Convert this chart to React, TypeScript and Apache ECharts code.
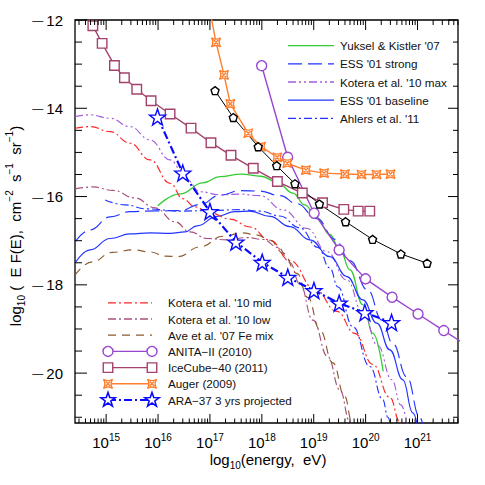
import React, { useEffect, useRef } from 'react';
import * as echarts from 'echarts';

// Axis extents (log10 energy in eV, log10 flux)
const X_MIN = 14.4;
const X_MAX = 21.78;
const Y_MIN = -21.13;
const Y_MAX = -12;

// ---- model curves [log10 E, log10 EF(E)] ----
const yukselKistler: [number, number][] = [
  [15.995, -16.21], [16.424, -15.94], [16.867, -15.69], [17.194, -15.55], [17.6, -15.49],
  [17.984, -15.54], [18.29, -15.67], [18.6, -15.92], [18.83, -16.19], [19.06, -16.48],
  [19.31, -16.86], [19.504, -17.2], [19.697, -17.66], [19.947, -18.45], [20.14, -19.1], [20.338, -19.96],
];
const essStrong: [number, number][] = [
  [14.403, -17.02], [14.692, -16.755], [15.077, -16.461], [15.462, -16.34], [15.943, -16.325],
  [16.424, -16.32], [16.809, -16.18], [17.194, -15.97], [17.579, -15.865], [17.964, -15.875],
  [18.349, -15.98], [18.677, -16.16], [19.062, -16.5], [19.408, -16.97], [19.697, -17.45],
  [20.043, -18.12], [20.313, -18.8], [20.525, -19.33], [20.794, -20.09], [21.044, -21.0], [21.13, -21.33],
];
const koteraMax: [number, number][] = [
  [14.403, -14.185], [14.692, -14.15], [15.077, -14.226], [15.462, -14.416], [15.847, -14.717],
  [16.232, -15.17], [16.553, -15.62], [16.809, -15.89], [17.194, -15.96], [17.579, -15.945],
  [17.964, -15.98], [18.407, -16.3], [18.869, -16.72], [19.254, -17.25], [19.639, -17.89],
  [19.947, -18.63], [20.236, -19.38], [20.505, -20.15], [20.679, -20.72], [20.813, -21.239],
];
const essBaseline: [number, number][] = [
  [14.403, -17.503], [14.692, -17.208], [15.077, -16.95], [15.462, -16.846], [15.847, -16.823],
  [16.232, -16.835], [16.52, -16.8], [16.752, -16.665], [17.137, -16.45], [17.483, -16.34],
  [17.772, -16.33], [18.157, -16.45], [18.542, -16.68], [18.927, -16.98], [19.312, -17.36],
  [19.639, -17.813], [19.947, -18.341], [20.216, -18.868], [20.467, -19.473], [20.717, -20.152],
  [20.91, -20.9], [21.006, -21.239],
];
const ahlers: [number, number][] = [
  [14.981, -16.076], [15.366, -16.189], [15.789, -16.28], [16.424, -16.33], [17.06, -16.314],
  [17.579, -16.295], [17.964, -16.33], [18.349, -16.44], [18.734, -16.71], [19.08, -17.15],
  [19.312, -17.62], [19.466, -18.05], [19.755, -18.95], [20.082, -19.85], [20.332, -20.6],
  [20.428, -21.0], [20.5, -21.33],
];
const koteraMid: [number, number][] = [
  [14.403, -14.452], [14.692, -14.416], [15.077, -14.529], [15.462, -14.792], [15.847, -15.17],
  [16.232, -15.698], [16.482, -16.05], [16.713, -16.235], [17.002, -16.37], [17.387, -16.51],
  [17.772, -16.69], [18.157, -16.99], [18.542, -17.45], [19.023, -18.1], [19.446, -18.6],
  [19.793, -19.1], [20.139, -19.8], [20.467, -20.55], [20.659, -21.1], [20.73, -21.33],
];
const koteraLow: [number, number][] = [
  [14.403, -15.827], [14.75, -15.782], [15.135, -15.861], [15.558, -16.031], [15.943, -16.257],
  [16.328, -16.574], [16.617, -16.8], [16.944, -16.95], [17.329, -16.98], [17.714, -16.93],
  [18.022, -16.97], [18.311, -17.15], [18.542, -17.5], [18.734, -17.98], [18.984, -18.8],
  [19.273, -19.63], [19.504, -20.38], [19.697, -21.1], [19.75, -21.33],
];
const aveFeMix: [number, number][] = [
  [14.403, -17.774], [14.731, -17.48], [15.115, -17.265], [15.52, -17.208], [15.847, -17.254],
  [16.136, -17.35], [16.386, -17.36], [16.809, -17.14], [17.252, -16.9], [17.618, -16.823],
  [17.906, -16.869], [18.157, -16.99], [18.407, -17.28], [18.677, -17.74], [18.888, -18.29],
  [19.119, -19.02], [19.369, -19.767], [19.6, -20.537], [19.735, -21.103], [19.78, -21.33],
];

// ---- limits / measurements ----
const anita: [number, number][] = [
  [17.997, -13.035], [18.498, -15.11], [19.008, -16.377], [19.49, -17.21], [19.999, -17.865],
  [20.51, -18.28], [21.01, -18.66], [21.506, -19.036],
];
const anitaTail: [number, number][] = [[21.9, -19.335]];
const icecube: [number, number][] = [
  [14.744, -12.13], [14.923, -12.53], [15.16, -13.03], [15.352, -13.31], [15.59, -13.57],
  [15.866, -13.83], [16.232, -14.13], [16.636, -14.45], [17.02, -14.78], [17.406, -15.065],
  [17.835, -15.36], [18.3, -15.66], [18.78, -15.92], [19.17, -16.14], [19.58, -16.29],
  [19.857, -16.33], [20.08, -16.33],
];
const icecubeHead: [number, number][] = [[14.6, -11.8]];
const auger: [number, number][] = [
  [17.117, -12.505], [17.271, -13.245], [17.393, -13.9], [17.739, -14.566], [17.984, -14.87],
  [18.297, -15.11], [18.49, -15.245], [18.85, -15.4], [19.2, -15.47], [19.6, -15.49],
  [19.92, -15.5], [20.21, -15.5], [20.48, -15.49],
];
const augerHead: [number, number][] = [[16.95, -11.5]];
const blackLimit: [number, number][] = [
  [17.098, -13.6], [17.45, -14.21], [17.93, -14.87], [18.286, -15.3], [18.638, -15.71],
  [19.11, -16.17], [19.614, -16.57], [20.134, -16.97], [20.68, -17.3], [21.185, -17.51],
];
const ara37: [number, number][] = [
  [15.99, -14.197], [16.476, -15.465], [17.0, -16.34], [17.5, -17.03], [18.007, -17.49],
  [18.5, -17.83], [19.004, -18.13], [19.49, -18.415], [19.985, -18.63], [20.5, -18.855],
];

const X_MINOR_FACTORS = [2, 3, 4, 5, 6, 7, 8, 9];
const Y_MAJOR_TICKS = [-12, -14, -16, -18, -20];
const Y_MINOR_STEP = 0.5;

const LEGEND_TOP_NAMES = ["Yuksel & Kistler '07", "ESS '01 strong", "Kotera et al. '10 max", "ESS '01 baseline", "Ahlers et al. '11"];
const LEGEND_BOTTOM_NAMES = ["Kotera et al. '10 mid", "Kotera et al. '10 low", "Ave et al. '07 Fe mix", 'ANITA\u2212II (2010)', 'IceCube\u221240 (2011)', 'Auger (2009)', 'ARA\u221237 3 yrs projected'];

const C = {
  green: '#33CC33',
  blue: '#2234FF',
  ara: '#0A0AFF',
  kmax: '#A35CDB',
  kmid: '#FF2525',
  klow: '#A8507E',
  brown: '#8C5A2E',
  anita: '#9A45CF',
  ice: '#A3426E',
  auger: '#FF7F2E',
};

const STAR_D = 'M0,-7.5 L1.763,-2.427 L7.133,-2.318 L2.853,0.927 L4.408,6.068 L0,3 L-4.408,6.068 L-2.853,0.927 L-7.133,-2.318 L-1.763,-2.427 Z';
const PENT_D = 'M0,-4.5 L4.28,-1.39 L2.645,3.64 L-2.645,3.64 L-4.28,-1.39 Z';
const AUGER_D = 'M-4.5,-4.5 Q0,-1.8 4.5,-4.5 Q1.8,0 4.5,4.5 Q0,1.8 -4.5,4.5 Q-1.8,0 -4.5,-4.5 Z M-2.2,-2.2 L2.2,2.2 M2.2,-2.2 L-2.2,2.2';

let shapesRegistered = false;
function registerShapes() {
  if (shapesRegistered) return;
  echarts.graphic.registerShape('araStar', echarts.graphic.extendPath(STAR_D, {}) as any);
  echarts.graphic.registerShape('augerMark', echarts.graphic.extendPath(AUGER_D, {}) as any);
  shapesRegistered = true;
}

const FONT = '"Liberation Sans", Arial, Helvetica, sans-serif';

export default function App() {
  const ref = useRef<HTMLDivElement>(null);
  useEffect(() => {
    if (!ref.current) return;
    registerShapes();
    const chart = echarts.init(ref.current, undefined, { renderer: 'svg' });

    const DOTDASH = [8, 3, 2, 3];
    const modelLine = (name: string, data: [number, number][], color: string, type: any, width = 1.15) => ({
      name, type: 'line', data, showSymbol: false, symbol: 'none', smooth: 0.45, smoothMonotone: 'x',
      lineStyle: { color, width, type }, itemStyle: { color }, z: 3, silent: true,
    });
    const markLine = (name: string, data: [number, number][], color: string, symbol: string, size: number, lineType: any = 'solid', width = 1.4, extra: [number, number][] = [], prepend = false) => {
      const pts: any[] = data.map((d) => ({ value: d }));
      const ext = extra.map((d) => ({ value: d, symbol: 'none' }));
      const all = prepend ? [...ext, ...pts] : [...pts, ...ext];
      return {
        name, type: 'line', data: all, symbol, symbolSize: size, showAllSymbol: true,
        lineStyle: { color, width, type: lineType }, itemStyle: { color: '#fff', borderColor: color, borderWidth: 1.4 },
        z: 5, silent: true,
      };
    };

    const tickXData: any[] = [];
    for (let n = 14; n <= 21; n++) {
      if (n >= X_MIN && n <= X_MAX) tickXData.push([n, Y_MAX, 1]);
      for (const f of X_MINOR_FACTORS) {
        const v = n + Math.log10(f);
        if (v > X_MIN && v < X_MAX) tickXData.push([v, Y_MAX, 0]);
      }
    }
    const tickYData: any[] = [];
    for (let v = -21; v <= -12 + 1e-9; v += Y_MINOR_STEP) {
      const major = Y_MAJOR_TICKS.some((m) => Math.abs(m - v) < 1e-6) ? 1 : 0;
      tickYData.push([X_MIN, v, major]);
    }

    const blk = { stroke: '#000', lineWidth: 1 };
    const legendGraphics: any[] = [];
    const topRows = [45.7, 63.9, 82.0, 100.2, 118.3];
    const topStyles = [
      { color: C.green, dash: null },
      { color: C.blue, dash: [14, 6] },
      { color: C.kmax, dash: [8, 3, 2, 3, 2, 3] },
      { color: C.blue, dash: null },
      { color: C.blue, dash: DOTDASH },
    ];
    LEGEND_TOP_NAMES.forEach((name, i) => {
      const y = topRows[i];
      legendGraphics.push({ type: 'line', z: 100, shape: { x1: 288, y1: y, x2: 334, y2: y }, style: { stroke: topStyles[i].color, lineWidth: 1.3, lineDash: topStyles[i].dash } });
      legendGraphics.push({ type: 'text', z: 100, x: 340, y, style: { text: name, fontSize: 11.7, fontFamily: FONT, fill: '#111', verticalAlign: 'middle', align: 'left' } });
    });
    const botRows = [302.8, 319.0, 335.2, 351.4, 367.6, 383.8, 400.0];
    const botStyles: any[] = [
      { color: C.kmid, dash: DOTDASH, w: 1.3 },
      { color: C.klow, dash: DOTDASH, w: 1.3 },
      { color: C.brown, dash: [8, 6], w: 1.3 },
      { color: C.anita, dash: null, w: 1.4, mk: 'circle' },
      { color: C.ice, dash: null, w: 1.4, mk: 'rect' },
      { color: C.auger, dash: null, w: 1.4, mk: 'auger' },
      { color: C.ara, dash: DOTDASH, w: 2, mk: 'star' },
    ];
    const mk = (kind: string, cx: number, cy: number, color: string) => {
      const st = { fill: '#fff', stroke: color, lineWidth: 1.4 };
      if (kind === 'circle') return { type: 'circle', z: 101, shape: { cx, cy, r: 5 }, style: st };
      if (kind === 'rect') return { type: 'rect', z: 101, shape: { x: cx - 4.75, y: cy - 4.75, width: 9.5, height: 9.5 }, style: st };
      if (kind === 'auger') return { type: 'augerMark', z: 101, x: cx, y: cy, style: st };
      return { type: 'araStar', z: 101, x: cx, y: cy, style: { ...st, lineWidth: 1.6 } };
    };
    LEGEND_BOTTOM_NAMES.forEach((name, i) => {
      const y = botRows[i];
      const s = botStyles[i];
      legendGraphics.push({ type: 'line', z: 100, shape: { x1: 108, y1: y, x2: 152, y2: y }, style: { stroke: s.color, lineWidth: s.w, lineDash: s.dash } });
      if (s.mk) {
        legendGraphics.push(mk(s.mk, 108, y, s.color));
        legendGraphics.push(mk(s.mk, 152, y, s.color));
      }
      legendGraphics.push({ type: 'text', z: 100, x: 168, y, style: { text: name, fontSize: 11.7, fontFamily: FONT, fill: '#111', verticalAlign: 'middle', align: 'left' } });
    });

    const yTitle = {
      type: 'text', z: 100, x: 15, y: 226, rotation: Math.PI / 2,
      style: {
        text: '{a|log}{b|10}{a| (  E F(E),  cm}{c|\u22122}{a|  s}{c|\u22121}{a|  sr}{c|\u22121}{a|)}',
        align: 'center', verticalAlign: 'middle', fill: '#000',
        rich: {
          a: { fontSize: 15, fontFamily: FONT, lineHeight: 22, verticalAlign: 'middle' },
          b: { fontSize: 10, fontFamily: FONT, lineHeight: 22, verticalAlign: 'bottom' },
          c: { fontSize: 10, fontFamily: FONT, lineHeight: 22, verticalAlign: 'top' },
        },
      },
    };
    const xTitle = {
      type: 'text', z: 100, x: 268, y: 459,
      style: {
        text: '{a|log}{b|10}{a|(energy,  eV)}',
        align: 'center', verticalAlign: 'middle', fill: '#000',
        rich: {
          a: { fontSize: 15, fontFamily: FONT, lineHeight: 22, verticalAlign: 'middle' },
          b: { fontSize: 10, fontFamily: FONT, lineHeight: 22, verticalAlign: 'bottom' },
        },
      },
    };

    const option: any = {
      animation: false,
      backgroundColor: '#fff',
      grid: { left: 75, right: 27, top: 20, bottom: 62, show: true, borderColor: '#000', borderWidth: 1.3, backgroundColor: 'transparent' },
      xAxis: {
        type: 'value', min: X_MIN, max: X_MAX, splitNumber: 7,
        axisLine: { show: false }, axisTick: { show: false }, splitLine: { show: false },
        axisLabel: {
          margin: 9, color: '#000',
          formatter: (v: number) => (Math.abs(v - Math.round(v)) < 1e-6 ? `{b|10}{s|${Math.round(v)}}` : ''),
          rich: {
            b: { fontSize: 15, fontFamily: FONT, lineHeight: 18, verticalAlign: 'bottom' },
            s: { fontSize: 10, fontFamily: FONT, lineHeight: 18, verticalAlign: 'top' },
          },
        },
      },
      yAxis: {
        type: 'value', min: Y_MIN, max: Y_MAX, splitNumber: 5,
        axisLine: { show: false }, axisTick: { show: false }, splitLine: { show: false },
        axisLabel: {
          margin: 12, color: '#000',
          formatter: (v: number) => {
            const r = Math.round(v);
            return Math.abs(v - r) < 1e-6 && r % 2 === 0 ? `{m|\u2014}{n|${Math.abs(r)}}` : '';
          },
          rich: {
            m: { fontSize: 11, fontFamily: FONT, padding: [0, 3, 0, 0], lineHeight: 18, verticalAlign: 'middle' },
            n: { fontSize: 15, fontFamily: FONT, lineHeight: 18, verticalAlign: 'middle' },
          },
        },
      },
      graphic: [...legendGraphics, yTitle, xTitle],
      series: [
        modelLine("Yuksel & Kistler '07", yukselKistler, C.green, 'solid', 1.3),
        modelLine("ESS '01 strong", essStrong, C.blue, [14, 6]),
        modelLine("Kotera et al. '10 max", koteraMax, C.kmax, [8, 3, 2, 3, 2, 3]),
        modelLine("ESS '01 baseline", essBaseline, C.blue, 'solid'),
        modelLine("Ahlers et al. '11", ahlers, C.blue, DOTDASH),
        modelLine("Kotera et al. '10 mid", koteraMid, C.kmid, DOTDASH),
        modelLine("Kotera et al. '10 low", koteraLow, C.klow, DOTDASH),
        modelLine("Ave et al. '07 Fe mix", aveFeMix, C.brown, [8, 6]),
        markLine('ANITA\u2212II (2010)', anita, C.anita, 'circle', 10, 'solid', 1.4, anitaTail),
        markLine('IceCube\u221240 (2011)', icecube, C.ice, 'rect', 9.5, 'solid', 1.4, icecubeHead, true),
        markLine('Auger (2009)', auger, C.auger, 'path://' + AUGER_D, 9, 'solid', 1.4, augerHead, true),
        markLine('Black limit', blackLimit, '#000', 'path://' + PENT_D, 8, 'solid', 1.0),
        markLine('ARA\u221237 3 yrs projected', ara37, C.ara, 'path://' + STAR_D, 16, DOTDASH, 2.2),
        {
          type: 'custom', name: 'xticks', data: tickXData, clip: false, silent: true, z: 10,
          encode: { x: 0, y: 1 },
          renderItem: (params: any, api: any) => {
            const cs = params.coordSys;
            const x = api.coord([api.value(0), Y_MAX])[0];
            const major = api.value(2) === 1;
            const lb = major ? 9 : 4.5;
            const lt = major ? 10 : 5;
            const yb = cs.y + cs.height;
            return {
              type: 'group', children: [
                { type: 'line', shape: { x1: x, y1: yb, x2: x, y2: yb - lb }, style: blk },
                { type: 'line', shape: { x1: x, y1: cs.y, x2: x, y2: cs.y + lt }, style: blk },
              ],
            };
          },
        },
        {
          type: 'custom', name: 'yticks', data: tickYData, clip: false, silent: true, z: 10,
          encode: { x: 0, y: 1 },
          renderItem: (params: any, api: any) => {
            const cs = params.coordSys;
            const y = api.coord([X_MIN, api.value(1)])[1];
            const major = api.value(2) === 1;
            const ll = major ? 12 : 7;
            const lr = major ? 10 : 5;
            const xr = cs.x + cs.width;
            return {
              type: 'group', children: [
                { type: 'line', shape: { x1: cs.x, y1: y, x2: cs.x + ll, y2: y }, style: blk },
                { type: 'line', shape: { x1: xr, y1: y, x2: xr - lr, y2: y }, style: blk },
              ],
            };
          },
        },
      ],
    };
    chart.setOption(option);
    return () => chart.dispose();
  }, []);
  return <div ref={ref} style={{ position: 'fixed', left: 0, top: 0, width: 485, height: 485, background: '#fff' }} />;
}
